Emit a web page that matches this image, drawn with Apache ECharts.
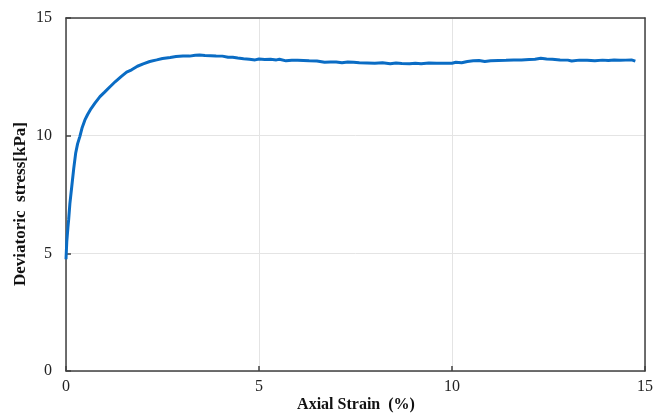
<!DOCTYPE html>
<html>
<head>
<meta charset="utf-8">
<script src="https://cdn.jsdelivr.net/npm/echarts@6/dist/echarts.min.js"></script>
<style>
  html, body { margin: 0; padding: 0; background: #ffffff; }
  #chart { width: 656px; height: 414px; }
</style>
</head>
<body>
<div id="chart"></div>
<script>
// Axial strain (%) of each reading
var strain = [
  0.00, 0.02, 0.05, 0.07, 0.10, 0.15, 0.20, 0.25, 0.30, 0.36,
  0.42, 0.49, 0.56, 0.65, 0.75, 0.88, 1.00, 1.14, 1.28, 1.42,
  1.57, 1.70, 1.85, 2.00, 2.17, 2.35, 2.50, 2.70, 2.85, 3.03,
  3.20, 3.35, 3.46, 3.60, 3.75, 3.89, 4.05, 4.20, 4.32, 4.45,
  4.60, 4.75, 4.90, 5.00, 5.15, 5.30, 5.45, 5.53, 5.70, 5.85,
  6.00, 6.15, 6.30, 6.50, 6.70, 6.85, 7.00, 7.15, 7.30, 7.45,
  7.60, 7.80, 8.00, 8.20, 8.40, 8.55, 8.70, 8.90, 9.05, 9.20,
  9.40, 9.60, 9.80, 10.00, 10.10, 10.25, 10.40, 10.55, 10.70, 10.85,
  11.00, 11.20, 11.40, 11.60, 11.80, 12.00, 12.15, 12.30, 12.45, 12.60,
  12.80, 13.00, 13.10, 13.30, 13.50, 13.70, 13.90, 14.05, 14.20, 14.35,
  14.50, 14.65, 14.75
];

// Deviatoric stress (kPa) at each reading
var stress = [
  4.75, 5.50, 6.10, 6.45, 7.10, 7.85, 8.60, 9.25, 9.65, 9.97,
  10.35, 10.67, 10.90, 11.15, 11.38, 11.66, 11.85, 12.08, 12.30, 12.50,
  12.70, 12.80, 12.95, 13.05, 13.15, 13.22, 13.28, 13.32, 13.36, 13.39,
  13.38, 13.42, 13.43, 13.41, 13.40, 13.39, 13.38, 13.33, 13.33, 13.30,
  13.27, 13.25, 13.22, 13.26, 13.24, 13.25, 13.22, 13.25, 13.18, 13.20,
  13.20, 13.19, 13.18, 13.17, 13.12, 13.13, 13.13, 13.10, 13.13, 13.12,
  13.10, 13.09, 13.08, 13.10, 13.06, 13.09, 13.07, 13.06, 13.08, 13.06,
  13.09, 13.08, 13.08, 13.08, 13.12, 13.10, 13.15, 13.18, 13.19, 13.15,
  13.18, 13.19, 13.20, 13.22, 13.22, 13.24, 13.25, 13.29, 13.26, 13.25,
  13.22, 13.21, 13.17, 13.21, 13.20, 13.18, 13.21, 13.19, 13.22, 13.20,
  13.21, 13.22, 13.17
];

// Axis tick values
var xTicks = [0, 5, 10, 15];
var yTicks = [0, 5, 10, 15];

var points = strain.map(function (s, i) { return [s, stress[i]]; });

var serif = '"Liberation Serif", "Times New Roman", serif';
var axisColor = '#404040';

var chart = echarts.init(document.getElementById('chart'), null, { renderer: 'canvas' });

function axisCommon(ticks) {
  return {
    type: 'value',
    min: ticks[0],
    max: ticks[ticks.length - 1],
    interval: ticks[1] - ticks[0],
    axisLine: { show: true, lineStyle: { color: axisColor, width: 1.5 } },
    axisTick: { show: true, inside: true, length: 5, lineStyle: { color: axisColor, width: 1.5 } },
    splitLine: { show: true, lineStyle: { color: '#e4e4e4', width: 1 } },
    axisLabel: { fontFamily: serif, fontSize: 16, color: '#222' }
  };
}

var xAxis = axisCommon(xTicks);
xAxis.axisLabel.margin = 8;
var yAxis = axisCommon(yTicks);
yAxis.axisLabel.margin = 14;

chart.setOption({
  animation: false,
  backgroundColor: '#ffffff',
  grid: { left: 66, right: 9, top: 18, bottom: 43, containLabel: false },
  xAxis: [xAxis, {
    type: 'value', position: 'top', min: 0, max: 15,
    axisLine: { show: true, onZero: false, lineStyle: { color: axisColor, width: 1.5 } },
    axisTick: { show: false }, axisLabel: { show: false }, splitLine: { show: false }
  }],
  yAxis: [yAxis, {
    type: 'value', position: 'right', min: 0, max: 15,
    axisLine: { show: true, onZero: false, lineStyle: { color: axisColor, width: 1.5 } },
    axisTick: { show: false }, axisLabel: { show: false }, splitLine: { show: false }
  }],
  graphic: [
    {
      type: 'text',
      x: 21, y: 204,
      rotation: Math.PI / 2,
      style: {
        text: 'Deviatoric  stress[kPa]',
        fontFamily: serif, fontSize: 17, fontWeight: 'bold', fill: '#111',
        align: 'center', verticalAlign: 'middle'
      }
    },
    {
      type: 'text',
      x: 356, y: 405,
      style: {
        text: 'Axial Strain  (%)',
        fontFamily: serif, fontSize: 16, fontWeight: 'bold', fill: '#111',
        align: 'center', verticalAlign: 'middle'
      }
    }
  ],
  series: [{
    type: 'line',
    data: points,
    xAxisIndex: 0,
    yAxisIndex: 0,
    showSymbol: false,
    smooth: false,
    lineStyle: { color: '#0a6cc4', width: 3 },
    z: 5
  }]
});
</script>
</body>
</html>
